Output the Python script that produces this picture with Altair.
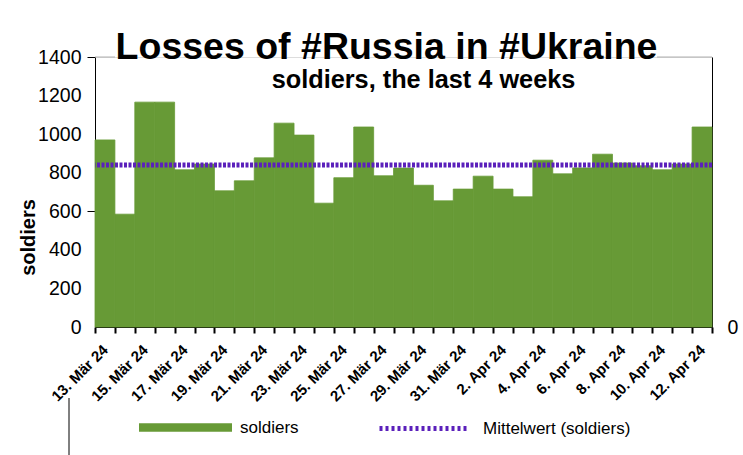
import altair as alt
import pandas as pd

dates = ["13. Mär 24", "14. Mär 24", "15. Mär 24", "16. Mär 24", "17. Mär 24", "18. Mär 24",
         "19. Mär 24", "20. Mär 24", "21. Mär 24", "22. Mär 24", "23. Mär 24", "24. Mär 24",
         "25. Mär 24", "26. Mär 24", "27. Mär 24", "28. Mär 24", "29. Mär 24", "30. Mär 24",
         "31. Mär 24", "1. Apr 24", "2. Apr 24", "3. Apr 24", "4. Apr 24", "5. Apr 24",
         "6. Apr 24", "7. Apr 24", "8. Apr 24", "9. Apr 24", "10. Apr 24", "11. Apr 24",
         "12. Apr 24"]
soldiers = [970, 585, 1166, 1166, 815, 845, 706, 758, 877, 1057, 995, 642, 774, 1037, 784,
            824, 735, 654, 715, 782, 715, 675, 865, 794, 825, 896, 850, 836, 815, 845, 1037]
shown_labels = ["13. Mär 24", "15. Mär 24", "17. Mär 24", "19. Mär 24", "21. Mär 24",
                "23. Mär 24", "25. Mär 24", "27. Mär 24", "29. Mär 24", "31. Mär 24",
                "2. Apr 24", "4. Apr 24", "6. Apr 24", "8. Apr 24", "10. Apr 24", "12. Apr 24"]
y_ticks = [0, 200, 400, 600, 800, 1000, 1200, 1400]

title_text = "Losses of #Russia in #Ukraine"
subtitle_text = "soldiers, the last 4 weeks"
bar_name = "soldiers"
mean_name = "Mittelwert (soldiers)"

GREEN = "#679a36"
PURPLE = "#5b20bb"
FONT = "Liberation Sans"

df = pd.DataFrame({"date": dates, "soldiers": soldiers})
df["series"] = bar_name
df["series2"] = mean_name

label_js = "[" + ",".join("'" + s + "'" for s in shown_labels) + "]"

x_enc = alt.X(
    "date:N", sort=dates,
    scale=alt.Scale(paddingInner=0, paddingOuter=0),
    axis=alt.Axis(
        title=None, labelAngle=-45, labelAlign="right", labelBaseline="middle",
        labelFontSize=15, labelFontWeight="bold", labelFont=FONT, labelColor="black",
        labelPadding=14, labelOverlap=False, tickBand="extent", tickSize=6, tickWidth=2,
        tickColor="black", domainColor="black", domainWidth=1,
        labelExpr="indexof(" + label_js + ", datum.value) >= 0 ? datum.label : ''",
    ),
)

bars = alt.Chart(df).mark_bar(stroke=GREEN, strokeWidth=0.8).encode(
    x=x_enc,
    y=alt.Y(
        "soldiers:Q",
        scale=alt.Scale(domain=[0, 1400]),
        axis=alt.Axis(
            values=y_ticks, format="d", title="soldiers", titleFont=FONT, titleFontSize=20,
            titleFontWeight="bold", titleColor="black", titleAngle=-90,
            titleX=-67, titleY=180, titleAlign="center", titleBaseline="middle",
            labelFont=FONT, labelFontSize=19.5, labelColor="black", labelPadding=6,
            tickSize=8, grid=False, domainColor="black",
            tickColor={"condition": {"test": "datum.value == 600 || datum.value == 1400",
                                     "value": "black"}, "value": "transparent"},
        ),
    ),
    fill=alt.Fill(
        "series:N",
        scale=alt.Scale(domain=[bar_name], range=[GREEN]),
        legend=alt.Legend(
            title=None, orient="none", legendX=44, legendY=324, padding=0,
            symbolType="M-1,-0.09H1V0.09H-1Z", symbolSize=8649, symbolStrokeWidth=0,
            labelFont=FONT, labelFontSize=17, labelColor="black", labelOffset=8,
        ),
    ),
)

rule = alt.Chart(df).mark_rule(strokeWidth=5, strokeDash=[3, 1.5]).encode(
    y=alt.Y(
        "mean(soldiers):Q",
        scale=alt.Scale(domain=[0, 1400]),
        axis=alt.Axis(
            orient="right", values=[0], title=None, ticks=False, grid=False,
            labelFont=FONT, labelFontSize=19.5, labelColor="black", labelPadding=15,
            domainColor="black",
        ),
    ),
    stroke=alt.Stroke(
        "series2:N",
        scale=alt.Scale(domain=[mean_name], range=[PURPLE]),
        legend=alt.Legend(
            title=None, orient="none", legendX=282, legendY=324, padding=0,
            symbolType="stroke", symbolSize=8100, symbolStrokeWidth=5,
            symbolDash=[3, 3], labelFont=FONT, labelFontSize=17,
            labelColor="black", labelOffset=11,
        ),
    ),
)

one = pd.DataFrame({"t": [subtitle_text]})
subtitle = alt.Chart(one).mark_text(
    font=FONT, fontSize=25.3, fontWeight="bold", color="black",
    align="center", baseline="alphabetic",
).encode(text="t:N", x=alt.value(328.5), y=alt.value(31))

vline = alt.Chart(one).mark_rule(color="black", strokeWidth=1).encode(
    x=alt.value(-26), y=alt.value(341), y2=alt.value(398)
)
top_left = alt.Chart(one).mark_rule(color="#b0b0b0", strokeWidth=1).encode(
    x=alt.value(0), x2=alt.value(20), y=alt.value(0)
)
top_right = alt.Chart(one).mark_rule(color="#b0b0b0", strokeWidth=1).encode(
    x=alt.value(562), x2=alt.value(617), y=alt.value(0)
)

chart = alt.layer(bars, rule, subtitle, vline, top_left, top_right).resolve_scale(
    y="independent", fill="independent", stroke="independent"
).properties(
    width=617, height=270,
    title=alt.TitleParams(
        title_text, font=FONT, fontSize=37.5, fontWeight="bold", color="black",
        anchor="middle", dx=-17, dy=49, offset=0, baseline="alphabetic",
    ),
    autosize=alt.AutoSizeParams(type="none"),
    padding={"left": 95, "top": 57, "right": 31, "bottom": 128},
).configure_view(strokeWidth=0).configure(font=FONT, background="white")

chart.save("out.html", embed_options={"renderer": "svg", "actions": False})
